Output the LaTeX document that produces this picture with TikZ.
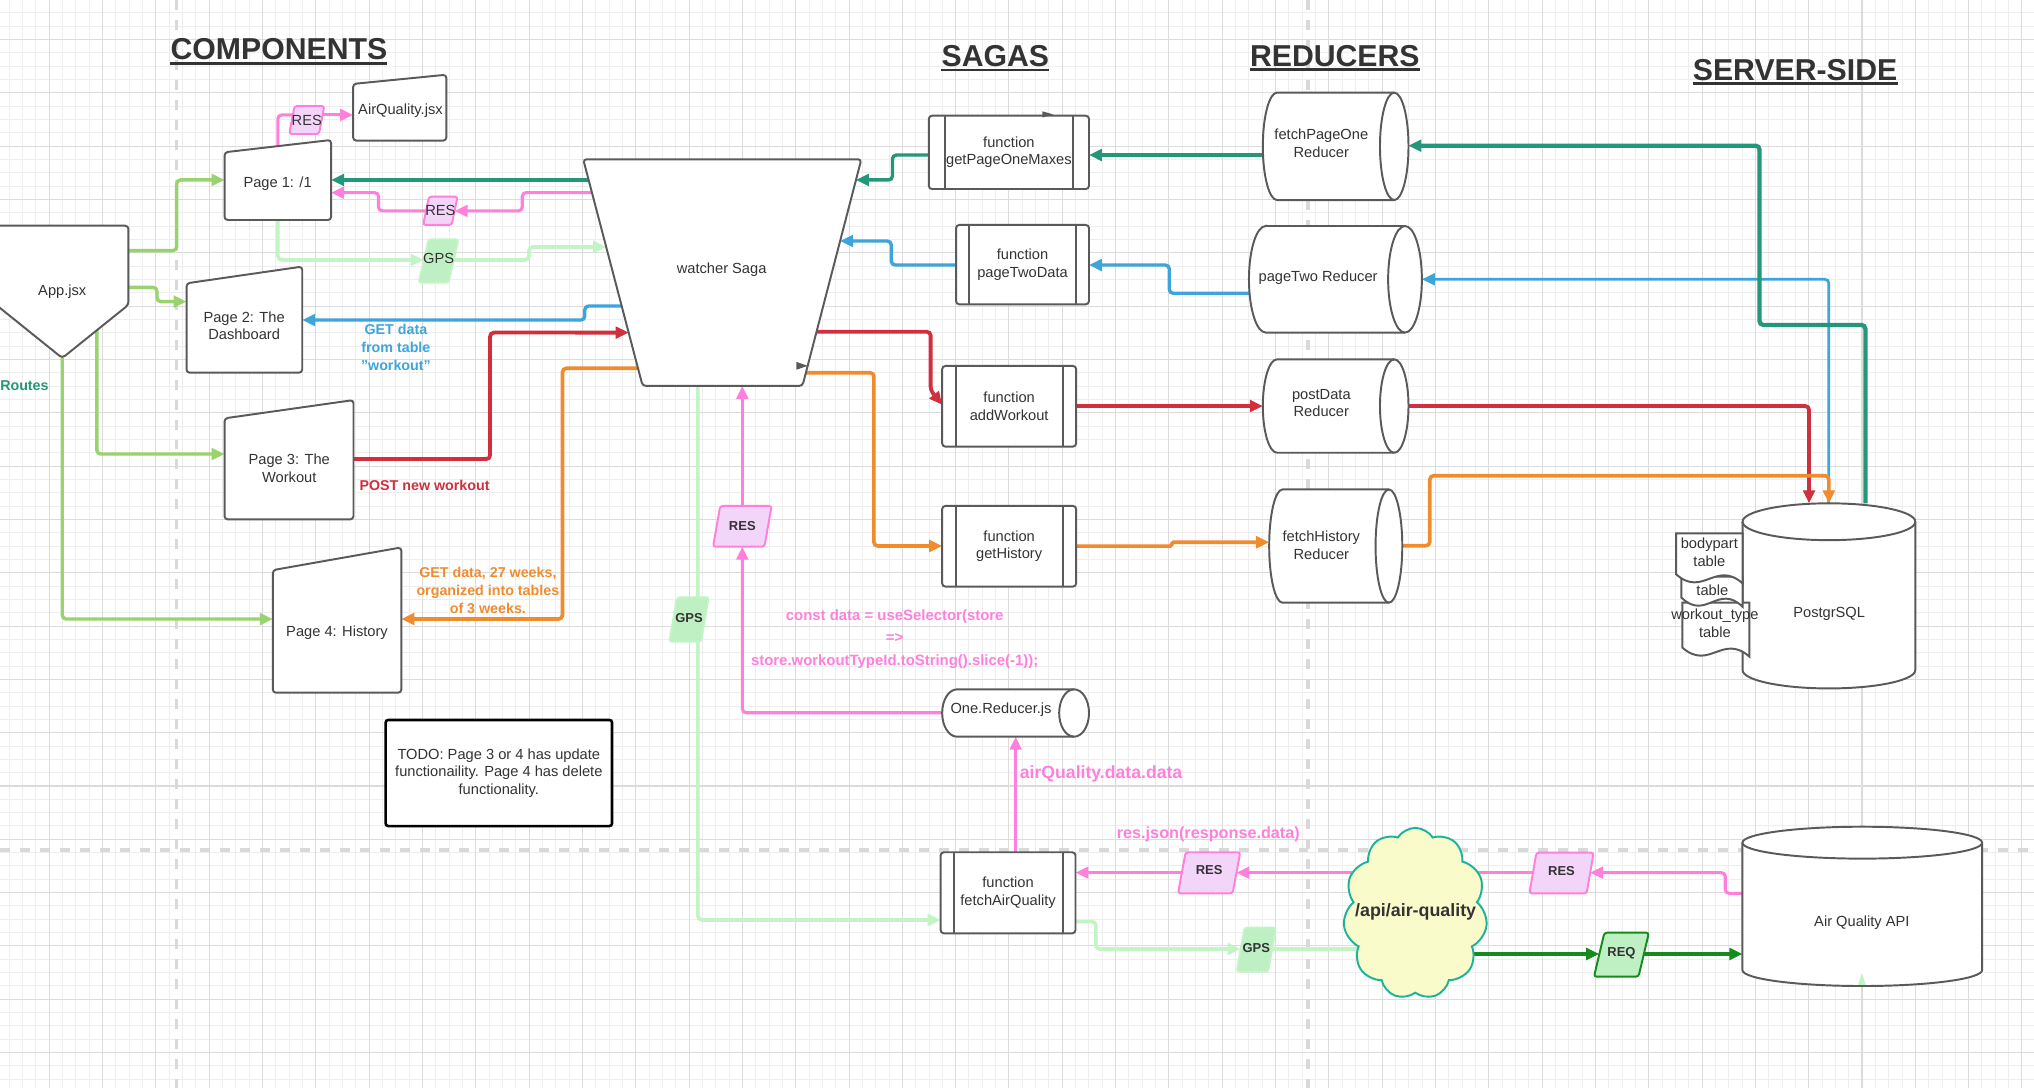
\documentclass[tikz,border=0pt]{standalone}
\usepackage{fontspec}
\setmainfont{Liberation Sans}
\usetikzlibrary{arrows.meta,calc,shapes.symbols}

\definecolor{ink}{HTML}{333333}
\definecolor{edge}{HTML}{5A5A5A}
\definecolor{gridminor}{HTML}{EEEEEE}
\definecolor{gridmajor}{HTML}{DCDCDC}
\definecolor{lanedash}{HTML}{D9D9D9}
\definecolor{routegreen}{HTML}{98D36E}
\definecolor{tealc}{HTML}{22977A}
\definecolor{pinkc}{HTML}{FF80DC}
\definecolor{pinkfill}{HTML}{F4D5FA}
\definecolor{palegreen}{HTML}{C2F4C6}
\definecolor{gpsfill}{HTML}{BFF0C4}
\definecolor{bluec}{HTML}{3DA5DB}
\definecolor{redc}{HTML}{D02F3D}
\definecolor{orangec}{HTML}{F08C2E}
\definecolor{reqgreen}{HTML}{168A1C}
\definecolor{cloudfill}{HTML}{FAFBCB}
\definecolor{cloudedge}{HTML}{1DB39A}

\tikzset{
  anchorbox/.style={draw=none, inner sep=0pt, outer sep=0pt},
  shapeline/.style={draw=edge, line width=1.5pt, fill=white},
  txt/.style={font=\fontsize{11.3}{13.6}\selectfont, text=ink, align=center, inner sep=0pt},
  lbl/.style={font=\bfseries\fontsize{11}{13.7}\selectfont, align=center, inner sep=0pt},
  badgetxt/.style={font=\bfseries\fontsize{10}{12}\selectfont, text=ink, inner sep=0pt},
  title/.style={font=\bfseries\fontsize{23.3}{28}\selectfont, text=ink, inner sep=0pt, anchor=base},
  titleline/.style={draw=ink, line width=2pt},
  lane/.style={draw=lanedash, line width=2.8pt, dash pattern=on 7.7pt off 7.7pt},
  conn/.style={line width=2.6pt, rounded corners=3pt},
  arr/.style={conn, -{Triangle[length=10pt,width=9pt]}},
  pinkbadge/.style={draw=pinkc, fill=pinkfill, line width=1.5pt},
  gpsbadge/.style={draw=palegreen, fill=gpsfill, line width=1.5pt},
  reqbadge/.style={draw=reqgreen, fill=gpsfill, line width=1.5pt},
}

% outline of a manual-input shape: top edge rises to the right
\newcommand\maninshape[2]{%
  \draw[shapeline, rounded corners=2.5pt] ($(#1.north west)+(0,#2)$) -- (#1.north east)
    -- (#1.south east) -- (#1.south west) -- cycle;}
% predefined-process box with two inner bars
\newcommand\procshape[2]{%
  \draw[shapeline, rounded corners=2.5pt] (#1.north west) rectangle (#1.south east);
  \draw[edge, line width=1.5pt] ($(#1.north west)+(#2,0)$) -- ($(#1.south west)+(#2,0)$)
    ($(#1.north east)+(-#2,0)$) -- ($(#1.south east)+(-#2,0)$);}
% cylinder lying on its side, end cap on the right
\newcommand\hcylshape[3]{%
  \draw[shapeline] ($(#1.north west)+(#2,0)$) -- ($(#1.north east)+(-#2,0)$)
    arc[start angle=90,end angle=-90,x radius=#2pt,y radius=#3pt]
    -- ($(#1.south west)+(#2,0)$)
    arc[start angle=270,end angle=90,x radius=#2pt,y radius=#3pt] -- cycle;
  \draw[edge, line width=1.5pt] ($(#1.north east)+(-#2,0)$)
    arc[start angle=90,end angle=270,x radius=#2pt,y radius=#3pt];}
% upright cylinder (database)
\newcommand\vcylshape[3]{%
  \draw[shapeline] ($(#1.north west)+(0,#3)$) -- ($(#1.south west)+(0,-#3)$)
    arc[start angle=180,end angle=360,x radius=#2pt,y radius=#3pt]
    -- ($(#1.north east)+(0,#3)$)
    arc[start angle=0,end angle=180,x radius=#2pt,y radius=#3pt] -- cycle;
  \draw[edge, line width=1.5pt] ($(#1.north west)+(0,#3)$)
    arc[start angle=180,end angle=360,x radius=#2pt,y radius=#3pt];}
% slanted data badge
\newcommand\badgeshape[3]{%
  \draw[#3, rounded corners=2pt] ($(#1.north west)+(#2,0)$) -- ($(#1.north east)+(#2,0)$)
    -- ($(#1.south east)+(-#2,0)$) -- ($(#1.south west)+(-#2,0)$) -- cycle;}
% document with a wavy lower edge
\newcommand\docshape[2]{%
  \draw[shapeline] (#1.north west) -- (#1.north east) -- (#1.south east)
    .. controls ($(#1.south east)!0.4!(#1.south west)+(0,-2.6*#2)$)
    and ($(#1.south west)!0.4!(#1.south east)+(0,1.6*#2)$)
    .. ($(#1.south west)+(0,-#2)$) -- cycle;}

\begin{document}
\begin{tikzpicture}[x=1pt,y=-1pt]
\useasboundingbox (0,0) rectangle (1568,839);
\fill[white] (0,0) rectangle (1568,839);

% ---------- grid paper ----------
\foreach \i in {0,...,153} \draw[gridminor, line width=0.75pt] ({-3.1+10.275*\i},0) -- ({-3.1+10.275*\i},839);
\foreach \i in {0,...,83} \draw[gridminor, line width=0.75pt] (0,{-10.6+10.275*\i}) -- (1568,{-10.6+10.275*\i});
\foreach \i in {0,...,38} \draw[gridmajor, line width=0.8pt] ({-3.1+41.1*\i},0) -- ({-3.1+41.1*\i},839);
\foreach \i in {0,...,20} \draw[gridmajor, line width=0.8pt] (0,{30.5+41.1*\i}) -- (1568,{30.5+41.1*\i});

% ---------- lane separators ----------
\draw[lane] (136.2,0) -- (136.2,839);
\draw[lane] (1008.4,0) -- (1008.4,839);
\draw[lane] (0,655.4) -- (1568,655.4);

% ---------- titles ----------
\node[title] (tComp) at (215,46.2) {COMPONENTS};
\node[title] (tSaga) at (767.3,51.4) {SAGAS};
\node[title] (tRed) at (1029,50.9) {REDUCERS};
\node[title] (tServ) at (1383.8,61.7) {SERVER-SIDE};
\foreach \t in {tComp,tSaga,tRed,tServ}
  \draw[titleline] ([yshift=-2.6pt]\t.base west) -- ([yshift=-2.6pt]\t.base east);

% ---------- node frames ----------
\node[anchorbox, minimum width=102pt, minimum height=102pt] (app) at (48,225) {};
\coordinate (appRB) at ($(app.north east)+(0,61)$);
\coordinate (appLB) at ($(app.north west)+(0,61)$);
\coordinate (appTip) at (app.south);

\node[anchorbox, minimum width=82.2pt, minimum height=61.7pt] (p1) at (214.2,138.75) {};
\node[anchorbox, minimum width=71.9pt, minimum height=50.8pt] (aqj) at (308.15,83) {};
\node[anchorbox, minimum width=89.2pt, minimum height=81.8pt] (p2) at (188.4,246.4) {};
\node[anchorbox, minimum width=99.4pt, minimum height=92pt] (p3) at (222.8,354.4) {};
\node[anchorbox, minimum width=99.1pt, minimum height=112pt] (p4) at (259.85,478) {};

\coordinate (sTL) at (449.6,122.8);
\coordinate (sTR) at (664,122.8);
\coordinate (sBL) at (495.4,297.5);
\coordinate (sBR) at (618.6,297.5);
\coordinate (sL1) at ($(sTL)!0.0910!(sBL)$);
\coordinate (sL2) at ($(sTL)!0.1471!(sBL)$);
\coordinate (sL4) at ($(sTL)!0.3870!(sBL)$);
\coordinate (sL5) at ($(sTL)!0.6474!(sBL)$);
\coordinate (sL6) at ($(sTL)!0.7648!(sBL)$);
\coordinate (sL7) at ($(sTL)!0.9222!(sBL)$);
\coordinate (sR1) at ($(sTR)!0.0910!(sBR)$);
\coordinate (sR2) at ($(sTR)!0.3606!(sBR)$);
\coordinate (sR6) at ($(sTR)!0.7607!(sBR)$);
\coordinate (sR7) at ($(sTR)!0.9416!(sBR)$);

\node[anchorbox, minimum width=123.5pt, minimum height=56.5pt] (gpo) at (777.75,117.45) {};
\node[anchorbox, minimum width=102.5pt, minimum height=61.2pt] (ptd) at (788.25,204) {};
\node[anchorbox, minimum width=103.3pt, minimum height=62.2pt] (adw) at (777.95,313.2) {};
\node[anchorbox, minimum width=103.3pt, minimum height=62.2pt] (geth) at (777.95,421.1) {};
\node[anchorbox, minimum width=104pt, minimum height=62.5pt] (faq) at (777.1,688.25) {};

\node[anchorbox, minimum width=113.2pt, minimum height=36.5pt] (oneR) at (782.9,549.65) {};
\node[anchorbox, minimum width=112.3pt, minimum height=82.8pt] (rF) at (1029.65,112.8) {};
\node[anchorbox, minimum width=133.3pt, minimum height=82.2pt] (rP2) at (1029.45,215.3) {};
\node[anchorbox, minimum width=112.3pt, minimum height=72pt] (rPD) at (1029.65,313) {};
\node[anchorbox, minimum width=102.6pt, minimum height=87.3pt] (rFH) at (1029.7,420.95) {};
\node[anchorbox, minimum width=133.2pt, minimum height=142.7pt] (pg) at (1409.9,459.35) {};
\node[anchorbox, minimum width=184.8pt, minimum height=122.8pt] (aqa) at (1435.6,698.7) {};

\node[anchorbox, minimum width=51.7pt, minimum height=41.6pt] (docC) at (1322.75,485.4) {};
\node[anchorbox, minimum width=47.1pt, minimum height=23.1pt] (docB) at (1319.75,456.15) {};
\node[anchorbox, minimum width=51.2pt, minimum height=38.5pt] (docA) at (1317.7,430.45) {};

\node[anchorbox, minimum width=111pt, minimum height=132pt] (cloudApi) at (1091,704.2) {};

\node[anchorbox, minimum width=22.9pt, minimum height=21.6pt] (resA) at (236.5,92.5) {};
\node[anchorbox, minimum width=22pt, minimum height=21.8pt] (resB) at (339.45,162.5) {};
\node[anchorbox, minimum width=23pt, minimum height=33.4pt] (gpsA) at (338.1,201.2) {};
\node[anchorbox, minimum width=39.6pt, minimum height=31.4pt] (resC) at (572.25,405.7) {};
\node[anchorbox, minimum width=24.4pt, minimum height=34.1pt] (gpsB) at (531.15,477.55) {};
\node[anchorbox, minimum width=42.1pt, minimum height=31.7pt] (resD) at (932.1,672.85) {};
\node[anchorbox, minimum width=24.2pt, minimum height=33.9pt] (gpsC) at (968.5,732.05) {};
\node[anchorbox, minimum width=44.1pt, minimum height=31.4pt] (resE) at (1203.75,673) {};
\node[anchorbox, minimum width=34.3pt, minimum height=33.9pt] (req) at (1249.95,735.95) {};

% ---------- connectors ----------
% routes from App.jsx
\draw[arr, routegreen] (app.east |- 0,193.2) -- (136.2,193.2) -- (136.2,138.7) -- (p1.west |- 0,138.7);
\draw[arr, routegreen] (app.east |- 0,221.5) -- (121,221.5) -- (121,232.5) -- (p2.west |- 0,232.5);
\draw[arr, routegreen] ($(appRB)!0.476!(appTip)$) -- (74.7,350) -- (p3.west |- 0,350);
\draw[arr, routegreen] (appTip) -- (48,477.2) -- (p4.west |- 0,477.2);

% blue: page two data
\draw[arr, bluec, line width=2.1pt] (1409.8,0 |- pg.north) -- (1409.8,215.3) -- (rP2.east |- 0,215.3);
\draw[arr, bluec] (rP2.west |- 0,226.1) -- (901.4,226.1) -- (901.4,204.3) -- (ptd.east |- 0,204.3);
\draw[arr, bluec] (ptd.west |- 0,204.3) -- (687.1,204.3) -- (687.1,185.8) -- (sR2);
\draw[arr, bluec] (sL5) -- (450.8,235.9) -- (450.8,246.7) -- (p2.east |- 0,246.7);

% teal: page one maxes
\draw[arr, tealc, line width=3.3pt] (1438,0 |- pg.north) -- (1438,250.5) -- (1356.4,250.5) -- (1356.4,112.3) -- (rF.east |- 0,112.3);
\draw[arr, tealc] (rF.west |- 0,119.5) -- (gpo.east |- 0,119.5);
\draw[arr, tealc] (gpo.west |- 0,119.5) -- (688,119.5) -- (688,138.7) -- (sR1);
\draw[arr, tealc] (sL1) -- (p1.east |- sL1);

% red: post workout
\draw[arr, redc, line width=2.9pt] (p3.east |- 0,353.9) -- (377.8,353.9) -- (377.8,256.4) -- (sL6);
\draw[arr, redc, line width=2.9pt] (sR6) -- (717.4,255.7) -- (717.4,301) -- (adw.west |- 0,312);
\draw[arr, redc, line width=2.9pt] (adw.east |- 0,313) -- (rPD.west |- 0,313);
\draw[arr, redc, line width=2.9pt] (rPD.east |- 0,313) -- (1394.6,313) -- (1394.6,0 |- pg.north);

% orange: history
\draw[arr, orangec, line width=2.8pt] (sL7) -- (433.6,283.9) -- (433.6,477.2) -- (p4.east |- 0,477.2);
\draw[arr, orangec, line width=2.8pt] (sR7) -- (673.7,287.3) -- (673.7,420.9) -- (geth.west |- 0,420.9);
\draw[arr, orangec, line width=2.8pt, rounded corners=1.2pt] (geth.east |- 0,421) -- (903.3,421) -- (903.3,418) -- (rFH.west |- 0,418);
\draw[arr, orangec, line width=2.8pt] (rFH.east |- 0,420.7) -- (1102.2,420.7) -- (1102.2,366.7) -- (1409.8,366.7) -- (pg.north);

% pink: responses
\draw[conn, pinkc, line width=2.4pt] (p1.north |- 0,113) -- (214.2,88.6) -- (resA.west |- 0,88.6);
\draw[arr, pinkc, line width=2.4pt] (resA.east |- 0,88.6) -- (aqj.west |- 0,88.6);
\draw[arr, pinkc, line width=2.4pt] (sL2) -- (402.6,148.5) -- (402.6,162.6) -- (resB.east |- 0,162.6);
\draw[arr, pinkc, line width=2.4pt] (resB.west |- 0,162.6) -- (291.8,162.6) -- (291.8,148.5) -- (p1.east |- 0,148.5);
\draw[arr, pinkc, line width=2.4pt] (oneR.west |- 0,549.4) -| (resC.south);
\draw[arr, pinkc, line width=2.4pt] (resC.north) -- (resC.north |- sBL);
\draw[arr, pinkc, line width=2.4pt] (783,0 |- faq.north) -- (783,0 |- oneR.south);
\draw[arr, pinkc, line width=2.4pt] (aqa.west |- 0,688.7) -- (1330,688.7) -- (1330,672.7) -- (resE.east |- 0,672.7);
\draw[arr, pinkc, line width=2.4pt] (resE.west |- 0,672.7) -- (resD.east |- 0,672.7);
\draw[arr, pinkc, line width=2.4pt] (resD.west |- 0,672.7) -- (faq.east |- 0,672.7);

% pale green: GPS requests
\draw[arr, palegreen, line width=2.8pt] (p1.south) -- (214.2,200.4) -- (gpsA.west |- 0,200.4);
\draw[arr, palegreen, line width=2.8pt] (gpsA.east |- 0,200.4) -- (407.8,200.4) -- (407.8,190.4) -- (sL4);
\draw[arr, palegreen, line width=2.8pt] (538,0 |- sBL) -- (538,709.2) -- (faq.west |- 0,709.2);
\draw[arr, palegreen, line width=2.8pt] (faq.east |- 0,710.5) -- (844.8,710.5) -- (844.8,731.6) -- (gpsC.west |- 0,731.6);
\draw[conn, palegreen, line width=2.8pt] (gpsC.east |- 0,731.6) -- (cloudApi.center |- 0,731.6);

% dark green: outgoing request
\draw[arr, reqgreen, line width=3pt] (cloudApi.center |- 0,735.4) -- (req.west |- 0,735.4);
\draw[arr, reqgreen, line width=3pt] (req.east |- 0,735.4) -- (aqa.west |- 0,735.4);

% ---------- shapes ----------
\draw[shapeline, rounded corners=2.5pt] (app.north west) -- (app.north east) -- (appRB) -- (appTip) -- (appLB) -- cycle;
\node[txt] (appt) at (app.center) {App.jsx};

\maninshape{p1}{9.5}
\maninshape{aqj}{7.1}
\maninshape{p2}{12.9}
\maninshape{p3}{14.1}
\maninshape{p4}{17.5}
\node[txt] (p1t) at (214,142) {Page 1: /1};
\node[txt] (aqjt) at (308.7,85.6) {AirQuality.jsx};
\node[txt] (p2t) at (188.2,251) {Page 2: The\\Dashboard};
\node[txt] (p3t) at (223,360.8) {Page 3: The\\Workout};
\node[txt] (p4t) at (259.8,487.5) {Page 4: History};

\node[txt, draw=black, line width=2pt, rounded corners=2pt, fill=white,
      minimum width=174.5pt, minimum height=81.8pt] (todo) at (384.55,595.9)
  {TODO: Page 3 or 4 has update\\functionaility. Page 4 has delete\\functionality.};

\draw[shapeline, rounded corners=2.5pt] (sTL) -- (sTR) -- (sBR) -- (sBL) -- cycle;
\node[txt] (saga) at (556.3,207.6) {watcher Saga};

\procshape{gpo}{12.3}
\procshape{ptd}{10}
\procshape{adw}{10.5}
\procshape{geth}{10.5}
\procshape{faq}{10}
\node[txt] (gpot) at (gpo.center) {function\\getPageOneMaxes};
\node[txt] (ptdt) at (ptd.center) {function\\pageTwoData};
\node[txt] (adwt) at (adw.center) {function\\addWorkout};
\node[txt] (getht) at (geth.center) {function\\getHistory};
\node[txt] (faqt) at (faq.center) {function\\fetchAirQuality};

\hcylshape{oneR}{11.5}{18.25}
\hcylshape{rF}{11}{41.4}
\hcylshape{rP2}{13}{41.1}
\hcylshape{rPD}{11}{36}
\hcylshape{rFH}{10.3}{43.65}
\node[txt] (oneRt) at (771.7,547.3) {One.Reducer.js};
\node[txt] (rFt) at (1018.6,110.3) {fetchPageOne\\Reducer};
\node[txt] (rP2t) at (1016.1,214) {pageTwo Reducer};
\node[txt] (rPDt) at (1018.6,310.8) {postData\\Reducer};
\node[txt] (rFHt) at (1018.6,420.4) {fetchHistory\\Reducer};

\vcylshape{pg}{66.6}{14.2}
\vcylshape{aqa}{92.4}{12.3}
\node[txt] (pgt) at (1410.1,472.9) {PostgrSQL};
\node[txt] (aqat) at (1435.3,711) {Air Quality API};

\docshape{docC}{7}
\docshape{docB}{7}
\docshape{docA}{7}
\node[txt] (docAt) at (1317.7,425.7) {bodypart\\table};
\node[txt] (docBt) at (1320,455.4) {table};
\node[txt] (docCt) at (1322,480.5) {workout\_type\\table};

% ---------- badges ----------
\badgeshape{resA}{2.05}{pinkbadge}
\badgeshape{resB}{2.25}{pinkbadge}
\badgeshape{gpsA}{3.8}{gpsbadge}
\badgeshape{resC}{2.75}{pinkbadge}
\badgeshape{gpsB}{2.95}{gpsbadge}
\badgeshape{resD}{2.95}{pinkbadge}
\badgeshape{gpsC}{3}{gpsbadge}
\badgeshape{resE}{2.7}{pinkbadge}
\badgeshape{req}{4}{reqbadge}
\node[txt] (resAt) at (resA.center) {RES};
\node[txt] (resBt) at (resB.center) {RES};
\node[txt] (gpsAt) at ($(gpsA.center)+(0,-1.6)$) {GPS};
\node[badgetxt] (resCt) at (resC.center) {RES};
\node[badgetxt] (gpsBt) at ($(gpsB.center)+(0,-1.1)$) {GPS};
\node[badgetxt] (resDt) at ($(resD.center)+(0,-1.8)$) {RES};
\node[badgetxt] (gpsCt) at ($(gpsC.center)+(0,-1)$) {GPS};
\node[badgetxt] (resEt) at ($(resE.center)+(0,-1.8)$) {RES};
\node[badgetxt] (reqt) at ($(req.center)+(0,-1)$) {REQ};

% ---------- API route cloud ----------
\node[cloud, cloud puffs=11, cloud puff arc=115, cloud ignores aspect, draw=cloudedge, fill=cloudfill,
      line width=1.5pt, minimum width=111pt, minimum height=132pt, inner sep=0pt] (cloudShape) at (cloudApi.center) {};
\node[font=\bfseries\fontsize{13.75}{16}\selectfont, text=ink, inner sep=0pt] (cloudt) at (1091.3,702.8) {/api/air-quality};

% ---------- connector labels ----------
\node[lbl, text=tealc, anchor=west] (lblRoutes) at (0,297) {Routes};
\node[lbl, text=bluec] (lblGet) at (305.2,267.9) {GET data\\from table\\"workout"};
\node[lbl, text=redc, anchor=west] (lblPost) at (277,374.2) {POST new workout};
\node[lbl, text=orangec] (lblHist) at (376.1,455.3) {GET data, 27 weeks,\\organized into tables\\of 3 weeks.};
\node[lbl, text=pinkc, font=\bfseries\fontsize{11.5}{17.5}\selectfont] (lblCode) at (689.7,492.6)
  {const data = useSelector(store\\=>\\store.workoutTypeId.toString().slice(-1));};
\node[lbl, text=pinkc, font=\bfseries\fontsize{13.6}{16}\selectfont, anchor=west] (lblAir) at (786,596.7) {airQuality.data.data};
\node[lbl, text=pinkc, font=\bfseries\fontsize{12.5}{15}\selectfont] (lblJson) at (931.5,643.2) {res.json(response.data)};

% ---------- loose arrow tips ----------
\fill[edge] (803.5,85.8) -- (812,88.2) -- (803.5,90.6) -- cycle;
\fill[edge] (614,279) -- (622.7,282) -- (614,285) -- cycle;
\fill[palegreen] (1432.3,759.3) -- (1438.3,759.3) -- (1435.3,750.3) -- cycle;
\end{tikzpicture}
\end{document}
